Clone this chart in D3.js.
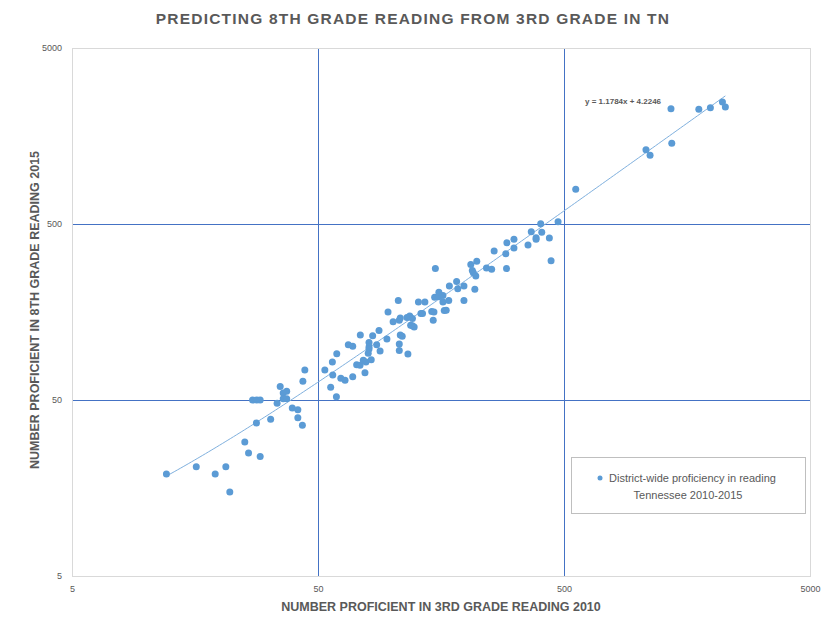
<!DOCTYPE html>
<html>
<head>
<meta charset="utf-8">
<script src="https://cdn.jsdelivr.net/npm/d3@7"></script>
<style>
    body { margin: 0; background: #fff; }
    text { fill: #595959; }
</style>
</head>
<body>
<div id="chart"></div>
<script>
// number proficient, 3rd grade reading 2010
const grade3 = [
    12.1, 16.0, 19.1, 21.1, 21.9, 25.2, 26.1, 29.1, 28.1, 32.1,
    34.1, 27.1, 28.2, 29.1, 35.1, 36.1, 37.3, 36.1, 37.3, 39.3,
    41.4, 41.4, 43.2, 43.4, 44.2, 53.3, 57.4, 56.3, 59.4, 61.9,
    64.4, 57.2, 59.6, 66.4, 69.2, 69.2, 71.8, 74.1, 74.3, 76.4,
    78.3, 77.6, 80.6, 80.6, 80.6, 80.0, 82.3, 83.4, 86.6, 88.5,
    89.4, 95.3, 96.3, 101, 106, 107, 108, 107, 107, 108,
    110, 116, 115, 118, 121, 119, 121, 123, 128, 131,
    133, 136, 145, 148, 147, 150, 149, 155, 161, 155,
    161, 163, 166, 170, 171, 183, 185, 196, 196, 209,
    212, 214, 219, 221, 217, 242, 254, 260, 558, 402,
    473, 368, 406, 385, 385, 436, 357, 293, 313, 313,
    290, 443, 292, 1077, 1119, 1371, 1361, 1766, 1968, 2203,
    2264
];

// number proficient, 8th grade reading 2015
const grade8 = [
    19.0, 20.9, 19.0, 20.9, 15.0, 28.9, 25.0, 23.9, 37.0, 38.9,
    47.9, 50, 50, 50, 59.6, 54.8, 56.0, 50.9, 50.9, 45.0,
    44.0, 39.7, 35.9, 63.9, 74.0, 74.0, 69.3, 59.0, 52.2, 66.4,
    64.7, 82.2, 91.6, 103, 101, 67.8, 79.4, 78.7, 117, 84.1,
    82.2, 71.5, 106, 100, 97.5, 92.1, 84.7, 116, 103, 124,
    94.9, 111, 158, 139, 184, 142, 146, 104, 95.7, 117,
    115, 91.2, 147, 150, 145, 133, 132, 130, 180, 155,
    155, 180, 159, 158, 142, 279, 192, 193, 196, 205,
    180, 161, 162, 184, 222, 236, 214, 222, 184, 294,
    272, 264, 253, 307, 213, 281, 277, 351, 787, 502,
    515, 452, 449, 418, 409, 416, 380, 391, 409, 365,
    339, 309, 279, 1322, 1228, 1438, 2260, 2243, 2290, 2466,
    2311
];

const axisTicks = [5, 50, 500, 5000];
const trend = { slope: 1.1784, intercept: 4.2246 };

const title = 'PREDICTING 8TH GRADE READING FROM 3RD GRADE IN TN';
const xTitle = 'NUMBER PROFICIENT IN 3RD GRADE READING 2010';
const yTitle = 'NUMBER PROFICIENT IN 8TH GRADE READING 2015';
const legendLines = ['District-wide proficiency in reading', 'Tennessee 2010-2015'];

const width = 827;
const height = 628;
const plot = { left: 72, right: 810, top: 48, bottom: 576 };
const dotColor = '#5B9BD5';
const gridColor = '#4472C4';
const frameColor = '#D9D9D9';
const font = "'Liberation Sans', sans-serif";

const svg = d3.select('#chart')
    .append('svg')
    .attr('width', width)
    .attr('height', height)
    .style('font-family', font);

//scales
const x = d3.scaleLog()
    .domain([5, 5000])
    .range([plot.left, plot.right]);
const y = d3.scaleLog()
    .domain([5, 5000])
    .range([plot.bottom, plot.top]);

//grid lines
const xGrid = d3.axisBottom(x)
    .tickValues([50, 500])
    .tickSize(-(plot.bottom - plot.top))
    .tickFormat('');
svg.append('g')
    .attr('transform', `translate(0,${plot.bottom})`)
    .call(xGrid)
    .call(g => g.select('.domain').remove())
    .call(g => g.selectAll('line').attr('stroke', gridColor));

const yGrid = d3.axisLeft(y)
    .tickValues([50, 500])
    .tickSize(-(plot.right - plot.left))
    .tickFormat('');
svg.append('g')
    .attr('transform', `translate(${plot.left},0)`)
    .call(yGrid)
    .call(g => g.select('.domain').remove())
    .call(g => g.selectAll('line').attr('stroke', gridColor));

//frame
svg.append('rect')
    .attr('x', plot.left + 0.5)
    .attr('y', plot.top + 0.5)
    .attr('width', plot.right - plot.left)
    .attr('height', plot.bottom - plot.top)
    .attr('fill', 'none')
    .attr('stroke', frameColor);

//axes
const xAxis = d3.axisBottom(x)
    .tickValues(axisTicks)
    .tickSize(0)
    .tickPadding(10)
    .tickFormat(d3.format('d'));
svg.append('g')
    .attr('transform', `translate(0,${plot.bottom})`)
    .call(xAxis)
    .call(g => g.select('.domain').remove())
    .call(g => g.selectAll('text')
        .style('font-family', font)
        .style('font-size', '9px')
        .attr('fill', '#595959'));

const yAxis = d3.axisLeft(y)
    .tickValues(axisTicks)
    .tickSize(0)
    .tickPadding(10)
    .tickFormat(d3.format('d'));
svg.append('g')
    .attr('transform', `translate(${plot.left},0)`)
    .call(yAxis)
    .call(g => g.select('.domain').remove())
    .call(g => g.selectAll('text')
        .style('font-family', font)
        .style('font-size', '9px')
        .attr('fill', '#595959'));

//trend line
const [xMin, xMax] = d3.extent(grade3);
const trendPoints = d3.range(0, 201).map(i => {
    const v = xMin * Math.pow(xMax / xMin, i / 200);
    return [v, trend.slope * v + trend.intercept];
});
svg.append('path')
    .datum(trendPoints)
    .attr('d', d3.line().x(d => x(d[0])).y(d => y(d[1])))
    .attr('fill', 'none')
    .attr('stroke', '#7FB0DE')
    .attr('stroke-width', 1);

svg.append('text')
    .attr('x', 585)
    .attr('y', 104)
    .style('font-size', '8px')
    .style('font-weight', 'bold')
    .text(`y = ${trend.slope}x + ${trend.intercept}`);

//points
svg.append('g')
    .selectAll('circle')
    .data(grade3.map((d, i) => [d, grade8[i]]))
    .join('circle')
    .attr('cx', d => x(d[0]))
    .attr('cy', d => y(d[1]))
    .attr('r', 3.5)
    .attr('fill', dotColor);

//titles
svg.append('text')
    .attr('x', 413)
    .attr('y', 24)
    .attr('text-anchor', 'middle')
    .style('font-size', '15.5px')
    .style('font-weight', 'bold')
    .style('letter-spacing', '1.2px')
    .text(title);

svg.append('text')
    .attr('x', 441)
    .attr('y', 611)
    .attr('text-anchor', 'middle')
    .style('font-size', '12.5px')
    .style('font-weight', 'bold')
    .text(xTitle);

svg.append('text')
    .attr('transform', 'translate(39,310) rotate(-90)')
    .attr('text-anchor', 'middle')
    .style('font-size', '12.5px')
    .style('font-weight', 'bold')
    .text(yTitle);

//legend
const legend = svg.append('g');
legend.append('rect')
    .attr('x', 571.5)
    .attr('y', 457.5)
    .attr('width', 234)
    .attr('height', 56)
    .attr('fill', '#fff')
    .attr('stroke', '#BFBFBF');
legend.append('circle')
    .attr('cx', 600)
    .attr('cy', 478)
    .attr('r', 2.5)
    .attr('fill', dotColor);
legend.append('text')
    .attr('x', 609)
    .attr('y', 482)
    .style('font-size', '11px')
    .text(legendLines[0]);
legend.append('text')
    .attr('x', 688)
    .attr('y', 499)
    .attr('text-anchor', 'middle')
    .style('font-size', '11px')
    .text(legendLines[1]);
</script>
</body>
</html>
